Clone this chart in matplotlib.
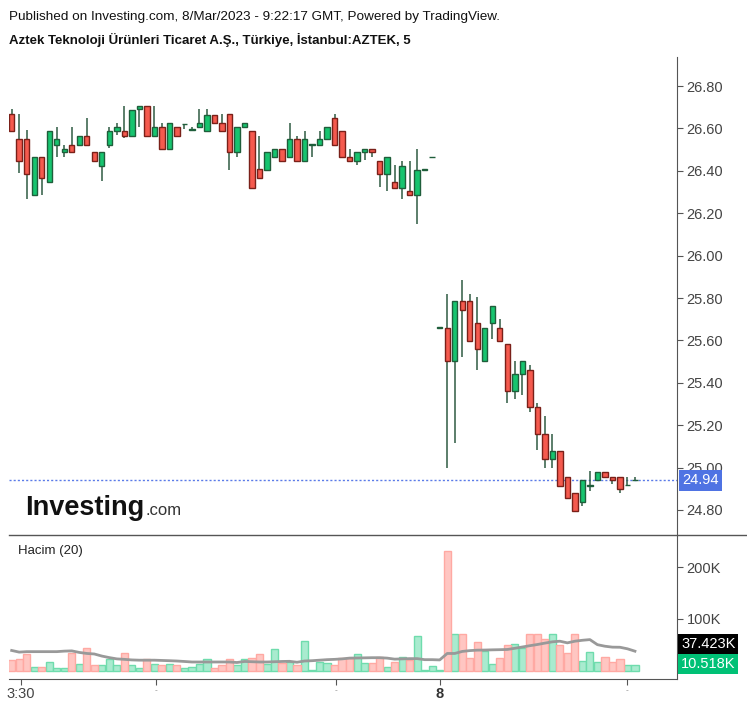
import numpy as np
import matplotlib
matplotlib.use("Agg")
import matplotlib.pyplot as plt
from matplotlib.lines import Line2D
import matplotlib.transforms as mtransforms

plt.rcParams['font.family'] = ['Liberation Sans', 'DejaVu Sans']

# OHLC de velas de 5 min (AZTEK)
opens = [26.666, 26.548, 26.548, 26.288, 26.464, 26.345, 26.524, 26.487, 26.524, 26.521,
         26.565, 26.487, 26.422, 26.521, 26.589, 26.589, 26.565, 26.690, 26.705, 26.565,
         26.605, 26.505, 26.605, 26.620, 26.592, 26.605, 26.589, 26.663, 26.624, 26.666,
         26.487, 26.605, 26.587, 26.408, 26.404, 26.464, 26.505, 26.464, 26.548, 26.445,
         26.523, 26.523, 26.548, 26.647, 26.589, 26.464, 26.445, 26.487, 26.505, 26.445,
         26.385, 26.345, 26.321, 26.304, 26.285, 26.404, 26.464, 25.659, 25.659, 25.501,
         25.785, 25.785, 25.683, 25.501, 25.683, 25.659, 25.583, 25.359, 25.442, 25.461,
         25.284, 25.158, 25.040, 25.080, 24.956, 24.880, 24.839, 24.913, 24.940, 24.981,
         24.956, 24.956, 24.917, 24.940]
highs = [26.691, 26.668, 26.592, 26.464, 26.464, 26.589, 26.608, 26.524, 26.608, 26.565,
         26.647, 26.487, 26.487, 26.605, 26.624, 26.707, 26.687, 26.705, 26.705, 26.707,
         26.624, 26.624, 26.605, 26.620, 26.608, 26.690, 26.690, 26.663, 26.666, 26.666,
         26.605, 26.624, 26.587, 26.565, 26.487, 26.505, 26.505, 26.624, 26.565, 26.589,
         26.523, 26.589, 26.605, 26.668, 26.589, 26.505, 26.487, 26.505, 26.505, 26.445,
         26.464, 26.426, 26.447, 26.447, 26.505, 26.404, 26.464, 25.659, 25.820, 25.785,
         25.886, 25.820, 25.804, 25.659, 25.761, 25.702, 25.583, 25.501, 25.501, 25.484,
         25.303, 25.243, 25.158, 25.080, 24.956, 24.880, 24.940, 24.984, 24.981, 24.981,
         24.956, 24.956, 24.957, 24.957]
lows = [26.587, 26.392, 26.266, 26.288, 26.288, 26.345, 26.466, 26.466, 26.487, 26.521,
        26.521, 26.445, 26.351, 26.508, 26.568, 26.553, 26.565, 26.608, 26.565, 26.565,
        26.505, 26.505, 26.565, 26.595, 26.592, 26.605, 26.589, 26.624, 26.587, 26.406,
        26.466, 26.605, 26.321, 26.364, 26.404, 26.464, 26.445, 26.464, 26.445, 26.445,
        26.466, 26.523, 26.548, 26.523, 26.464, 26.445, 26.426, 26.449, 26.466, 26.326,
        26.307, 26.321, 26.269, 26.285, 26.149, 26.404, 26.464, 25.659, 25.000, 25.118,
        25.523, 25.599, 25.462, 25.501, 25.607, 25.599, 25.303, 25.322, 25.344, 25.260,
        25.084, 25.000, 25.000, 24.913, 24.855, 24.795, 24.819, 24.890, 24.940, 24.956,
        24.921, 24.882, 24.917, 24.940]
closes = [26.587, 26.445, 26.385, 26.464, 26.364, 26.589, 26.548, 26.505, 26.487, 26.565,
          26.521, 26.445, 26.487, 26.589, 26.605, 26.565, 26.687, 26.705, 26.565, 26.605,
          26.505, 26.624, 26.565, 26.620, 26.592, 26.624, 26.663, 26.624, 26.587, 26.487,
          26.605, 26.624, 26.321, 26.364, 26.487, 26.505, 26.445, 26.548, 26.445, 26.548,
          26.523, 26.548, 26.605, 26.523, 26.464, 26.445, 26.487, 26.505, 26.487, 26.385,
          26.464, 26.321, 26.423, 26.285, 26.404, 26.404, 26.464, 25.659, 25.501, 25.785,
          25.744, 25.599, 25.560, 25.659, 25.761, 25.599, 25.359, 25.442, 25.501, 25.284,
          25.158, 25.040, 25.080, 24.913, 24.855, 24.795, 24.940, 24.913, 24.981, 24.956,
          24.940, 24.898, 24.917, 24.940]

# volumen (miles) y su media móvil de 20
volumes = [19.7, 21.6, 31, 7.6, 7.6, 16.5, 4.4, 4, 33, 12,
           43, 10, 10, 21.6, 10, 33, 10, 5, 21.6, 12,
           10, 12, 10, 5, 7.6, 12, 21.6, 4, 10, 21.6,
           10, 21.6, 24, 31, 12, 40.7, 15, 16.5, 10, 58,
           1, 16.5, 14, 11.4, 24, 24, 31, 14, 14, 26.7,
           7.6, 16.5, 26.7, 20, 67.5, 1, 8, 1, 232, 70.7,
           70.7, 23.5, 54.7, 37.5, 12, 23.5, 48.4, 52, 44, 70.7,
           70.7, 61.8, 70.7, 48.4, 33, 70.7, 18.4, 35.6, 16.5, 26.7,
           16.5, 21.6, 11.4, 10.5]
vol_sma = [38.8, 35.6, 36.5, 36.5, 36.5, 36.5, 36.5, 37.5, 38, 35,
           33, 32, 28, 25, 22.5, 21.6, 20.5, 20, 20, 20,
           19.5, 19, 18.4, 17.5, 16.5, 16.5, 16.5, 16.5, 16.5, 16.5,
           15.5, 17.5, 17, 16.5, 16.5, 17, 17.5, 17.8, 16, 18.4,
           19, 20, 21, 21.6, 22.5, 24, 24.2, 24.5, 24.8, 24.8,
           24, 22, 22.5, 23, 23, 21, 21, 20.5, 33, 33,
           36.9, 38.5, 39.4, 39.6, 40, 40.3, 40.7, 43, 45.5, 48,
           50.3, 53, 55.5, 56.7, 53.5, 56.7, 58.5, 59.8, 50, 47,
           45.2, 45, 42, 37.4]
last_price = 24.94
last_sma_label = '37.423K'
last_vol_label = '10.518K'

x_tick_pos = [1.2, 19.2, 43.2, 57, 82]
x_tick_lab = ['3:30', '-', '-', '8', '-']
price_ticks = [24.8, 25.0, 25.2, 25.4, 25.6, 25.8, 26.0, 26.2, 26.4, 26.6, 26.8]
vol_ticks = [100, 200]

W, H = 747, 707
fig = plt.figure(figsize=(W / 100, H / 100), dpi=100)

def px_axes(x0, y0, x1, y1):
    return fig.add_axes([x0 / W, 1 - y1 / H, (x1 - x0) / W, (y1 - y0) / H])

ax = px_axes(8.6, 57, 677, 535)
axv = px_axes(8.6, 535, 677, 679)

o = np.array(opens); h = np.array(highs); l = np.array(lows); c = np.array(closes)
x = np.arange(len(o))
up = c >= o

col_up, col_dn = '#17c46f', '#f55a4e'
edge_up, edge_dn = '#1f5e3b', '#7a2019'
wick = '#2f5b42'

# velas
ax.vlines(x, l, h, color=wick, lw=1.1, zorder=2)
body_b = np.minimum(o, c)
body_h = np.maximum(np.abs(c - o), 0.003)
ax.bar(x[up], body_h[up], bottom=body_b[up], width=0.72,
       color=col_up, edgecolor=edge_up, linewidth=1.0, zorder=3)
ax.bar(x[~up], body_h[~up], bottom=body_b[~up], width=0.72,
       color=col_dn, edgecolor=edge_dn, linewidth=1.0, zorder=3)

ax.axhline(last_price, color='#5b7be8', lw=1, ls=(0, (1.5, 1.5)), zorder=1)

ax.set_xlim(-0.41, 88.6)
ax.set_ylim(24.682, 26.937)
ax.set_xticks([])
ax.set_yticks(price_ticks)
ax.set_yticklabels(['%.2f' % t for t in price_ticks])
for s in ['left', 'top', 'bottom']:
    ax.spines[s].set_visible(False)
ax.spines['right'].set_color('#555555')
ax.yaxis.tick_right()
ax.tick_params(axis='y', length=4, color='#555555', labelcolor='#444444',
               labelsize=10.5, pad=3)

ax.annotate('%.2f' % last_price, xy=(1, last_price),
            xycoords=mtransforms.blended_transform_factory(ax.transAxes, ax.transData),
            xytext=(5, 0), textcoords='offset pixels', ha='left', va='center',
            color='white', fontsize=10.5, zorder=10, annotation_clip=False,
            bbox=dict(boxstyle='square,pad=0.22', fc='#4f73e3', ec='none'))

# logo (coordenadas en píxeles)
t1 = fig.text(25 / W, 1 - 515 / H, 'Investing', fontsize=19.5, fontweight='bold',
              color='#111111', va='baseline')
fig.canvas.draw()
bb = t1.get_window_extent()
fig.text((bb.x1 + 1) / W, 1 - 515 / H, '.com', fontsize=12,
         color='#333333', va='baseline')

# volumen
vols = np.array(volumes)
axv.bar(x[up], vols[up], width=0.96, color='#a9ebcf', edgecolor='#6fdcad', linewidth=1.0)
axv.bar(x[~up], vols[~up], width=0.96, color='#ffc6c2', edgecolor='#ffa9a3', linewidth=1.0)
axv.plot(x, vol_sma, color='#999999', lw=2)

axv.set_xlim(-0.41, 88.6)
axv.set_ylim(-16.4, 262.1)
axv.set_yticks(vol_ticks)
axv.set_yticklabels(['%dK' % t for t in vol_ticks])
for s in ['left', 'top']:
    axv.spines[s].set_visible(False)
axv.spines['right'].set_color('#555555')
axv.spines['bottom'].set_color('#555555')
axv.yaxis.tick_right()
axv.tick_params(axis='y', length=4, color='#555555', labelcolor='#444444',
                labelsize=10.5, pad=3)
axv.set_xticks(x_tick_pos)
axv.set_xticklabels(x_tick_lab)
axv.tick_params(axis='x', length=4, color='#555555', labelcolor='#444444',
                labelsize=10.5, pad=2)
for lab in axv.get_xticklabels():
    if lab.get_text() == '8':
        lab.set_fontweight('bold')
        lab.set_color('#333333')
    elif lab.get_text() == '-':
        lab.set_fontsize(6)
        lab.set_color('#888888')

bt = mtransforms.blended_transform_factory(axv.transAxes, axv.transData)
axv.annotate(last_sma_label, xy=(1, vol_sma[-1]), xycoords=bt, xytext=(4, 7),
             textcoords='offset pixels', ha='left', va='center', color='white',
             fontsize=10.5, bbox=dict(boxstyle='square,pad=0.2', fc='black', ec='none'))
axv.annotate(last_vol_label, xy=(1, volumes[-1]), xycoords=bt, xytext=(4, 1),
             textcoords='offset pixels', ha='left', va='center', color='white',
             fontsize=10.5, bbox=dict(boxstyle='square,pad=0.2', fc='#00c176', ec='none'))

axv.text(18 / W, 1 - 551 / H, 'Hacim (20)', transform=fig.transFigure,
         fontsize=9.5, color='#222222', va='center')

# separador entre paneles
fig.add_artist(Line2D([8.6 / W, 1], [1 - 535 / H, 1 - 535 / H], color='#555555', lw=1))

fig.text(9 / W, 1 - 17 / H, 'Published on Investing.com, 8/Mar/2023 - 9:22:17 GMT, Powered by TradingView.',
         fontsize=9.7, color='#111111', va='center')
fig.text(9 / W, 1 - 40 / H, 'Aztek Teknoloji Ürünleri Ticaret A.Ş., Türkiye, İstanbul:AZTEK, 5',
         fontsize=9.5, fontweight='bold', color='#111111', va='center')

fig.savefig('out.png', dpi=100)
